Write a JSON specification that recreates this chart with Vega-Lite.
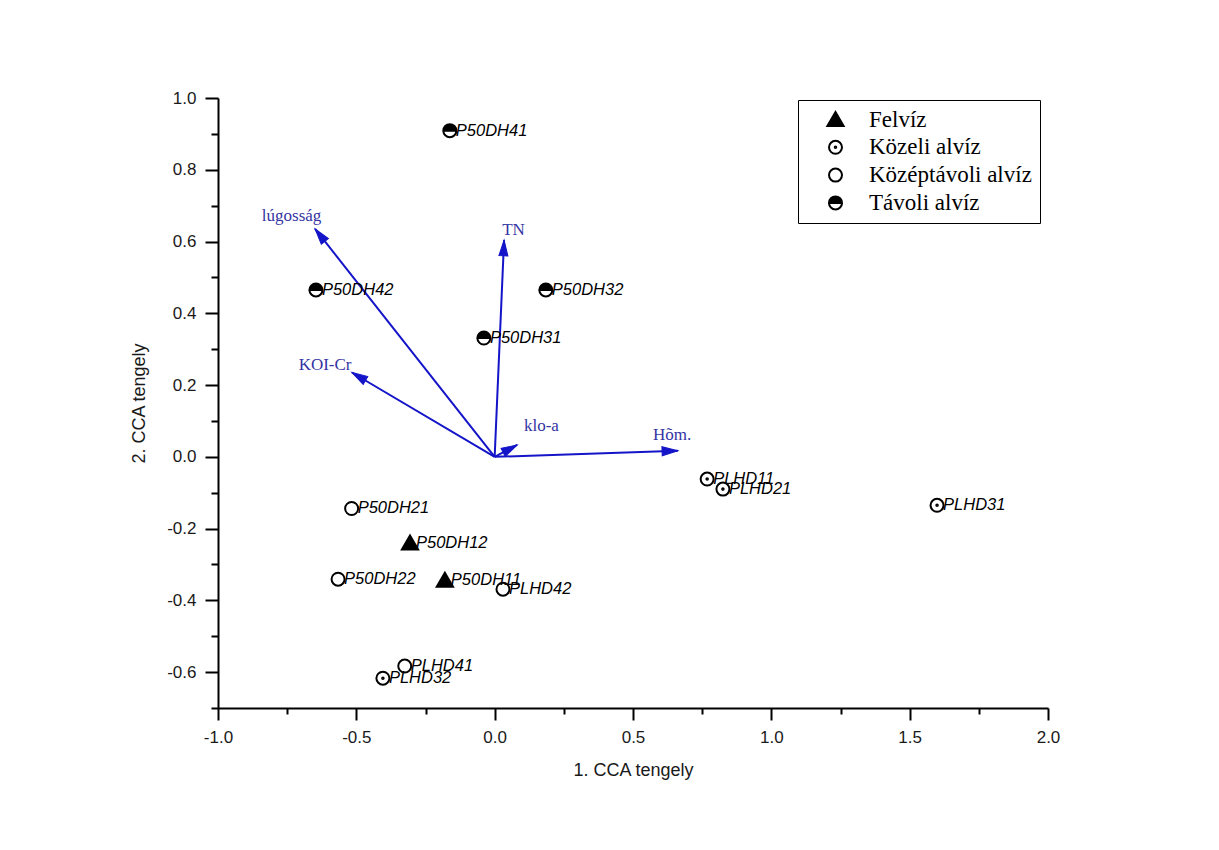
{
  "$schema": "https://vega.github.io/schema/vega-lite/v6.json",
  "width": 830,
  "height": 610,
  "autosize": {"type": "none"},
  "padding": {"left": 218, "top": 98, "right": 171, "bottom": 142},
  "background": "white",
  "config": {
    "view": {"stroke": null},
    "axis": {
      "grid": false,
      "domainColor": "black",
      "domainWidth": 2,
      "tickColor": "black",
      "tickWidth": 2,
      "labelFont": "Liberation Sans",
      "labelFontSize": 17,
      "labelColor": "#1a1a1a",
      "titleFont": "Liberation Sans",
      "titleFontSize": 18,
      "titleFontWeight": "normal",
      "titleColor": "#1a1a1a",
      "labelFlush": false,
      "labelOverlap": false
    },
    "legend": {
      "title": null, "orient": "none", "legendX": 580, "legendY": 2,
      "labelFont": "Liberation Serif", "labelFontSize": 23, "labelColor": "black", "labelLimit": 400,
      "symbolSize": 169, "symbolStrokeColor": "black", "symbolStrokeWidth": 2,
      "strokeColor": "black", "fillColor": "white", "padding": 8, "rowPadding": 3.8,
      "labelOffset": 22, "symbolOffset": 18, "cornerRadius": 0
    }
  },
  "datasets": {
    "sites": [
      {"site": "P50DH41", "group": "Távoli alvíz", "x": -0.162, "y": 0.909},
      {"site": "P50DH42", "group": "Távoli alvíz", "x": -0.646, "y": 0.465},
      {"site": "P50DH32", "group": "Távoli alvíz", "x": 0.185, "y": 0.465},
      {"site": "P50DH31", "group": "Távoli alvíz", "x": -0.039, "y": 0.331},
      {"site": "P50DH21", "group": "Középtávoli alvíz", "x": -0.517, "y": -0.144},
      {"site": "P50DH12", "group": "Felvíz", "x": -0.306, "y": -0.24},
      {"site": "P50DH22", "group": "Középtávoli alvíz", "x": -0.566, "y": -0.341},
      {"site": "P50DH11", "group": "Felvíz", "x": -0.18, "y": -0.344},
      {"site": "PLHD42", "group": "Középtávoli alvíz", "x": 0.03, "y": -0.369},
      {"site": "PLHD41", "group": "Középtávoli alvíz", "x": -0.325, "y": -0.583},
      {"site": "PLHD32", "group": "Közeli alvíz", "x": -0.404, "y": -0.617},
      {"site": "PLHD11", "group": "Közeli alvíz", "x": 0.768, "y": -0.062},
      {"site": "PLHD21", "group": "Közeli alvíz", "x": 0.825, "y": -0.09},
      {"site": "PLHD31", "group": "Közeli alvíz", "x": 1.599, "y": -0.135}
    ],
    "vectors": [
      {"var": "lúgosság", "vx": -0.649, "vy": 0.635, "lx": -0.734, "ly": 0.671},
      {"var": "TN", "vx": 0.034, "vy": 0.604, "lx": 0.068, "ly": 0.632},
      {"var": "KOI-Cr", "vx": -0.516, "vy": 0.235, "lx": -0.613, "ly": 0.256},
      {"var": "klo-a", "vx": 0.081, "vy": 0.033, "lx": 0.169, "ly": 0.086},
      {"var": "Hõm.", "vx": 0.662, "vy": 0.017, "lx": 0.641, "ly": 0.061}
    ]
  },
  "layer": [
    {
      "data": {"name": "vectors"},
      "mark": {"type": "rule", "stroke": "#1414c8", "strokeWidth": 2},
      "encoding": {
        "x": {"field": "vx", "type": "quantitative", "scale": {"domain": [-1, 2], "nice": false, "zero": false},
          "axis": {"title": "1. CCA tengely", "tickCount": 100, "values": [-1, -0.75, -0.5, -0.25, 0, 0.25, 0.5, 0.75, 1, 1.25, 1.5, 1.75, 2],
            "labelExpr": "abs(round(datum.value*4))%2==0 ? replace(format(datum.value,'.1f'),'\u2212','-') : ''",
            "tickSize": {"condition": {"test": "abs(round(datum.value*4))%2==0", "value": 12}, "value": 6},
            "labelPadding": 9, "titlePadding": 16}},
        "y": {"field": "vy", "type": "quantitative", "scale": {"domain": [-0.7, 1.0], "nice": false, "zero": false},
          "axis": {"title": "2. CCA tengely", "tickCount": 100, "values": [-0.7, -0.6, -0.5, -0.4, -0.3, -0.2, -0.1, 0, 0.1, 0.2, 0.3, 0.4, 0.5, 0.6, 0.7, 0.8, 0.9, 1.0],
            "labelExpr": "abs(round(datum.value*10))%2==0 ? replace(format(datum.value,'.1f'),'\u2212','-') : ''",
            "tickSize": {"condition": {"test": "abs(round(datum.value*10))%2==0", "value": 13}, "value": 7},
            "labelPadding": 9, "titlePadding": 18}},
        "x2": {"datum": 0},
        "y2": {"datum": 0}
      }
    },
    {
      "data": {"name": "vectors"},
      "transform": [{"calculate": "atan2(datum.vx*276.7, datum.vy*358.75)*180/PI", "as": "ang"}],
      "mark": {"type": "point", "shape": "M0,0L-0.6,2.1L0.6,2.1Z", "size": 225, "filled": true, "fill": "#1414c8", "stroke": "#1414c8", "strokeWidth": 1, "opacity": 1},
      "encoding": {
        "x": {"field": "vx", "type": "quantitative"},
        "y": {"field": "vy", "type": "quantitative"},
        "angle": {"field": "ang", "type": "quantitative", "scale": null}
      }
    },
    {
      "data": {"name": "vectors"},
      "mark": {"type": "text", "font": "Liberation Serif", "fontSize": 17, "color": "#3434a4", "align": "center", "baseline": "middle"},
      "encoding": {
        "x": {"field": "lx", "type": "quantitative"},
        "y": {"field": "ly", "type": "quantitative"},
        "text": {"field": "var"}
      }
    },
    {
      "data": {"name": "sites"},
      "mark": {"type": "point", "size": 169, "strokeWidth": 2, "opacity": 1, "fillOpacity": 1, "strokeOpacity": 1},
      "encoding": {
        "x": {"field": "x", "type": "quantitative"},
        "y": {"field": "y", "type": "quantitative"},
        "shape": {
          "field": "group", "type": "nominal",
          "scale": {
            "domain": ["Felvíz", "Közeli alvíz", "Középtávoli alvíz", "Távoli alvíz"],
            "range": [
              "M0,-1.15L1.25,1L-1.25,1Z",
              "M-1,0A1,1,0,1,1,1,0A1,1,0,1,1,-1,0Z M-0.12,0A0.12,0.12,0,1,1,0.12,0A0.12,0.12,0,1,1,-0.12,0Z",
              "circle",
              "M-1,0A1,1,0,0,1,1,0Z M-1,0A1,1,0,0,0,1,0A1,1,0,0,1,-1,0"
            ]
          }
        },
        "fill": {
          "field": "group", "type": "nominal",
          "scale": {
            "domain": ["Felvíz", "Közeli alvíz", "Középtávoli alvíz", "Távoli alvíz"],
            "range": ["black", "transparent", "transparent", "black"]
          }
        },
        "stroke": {
          "field": "group", "type": "nominal",
          "scale": {
            "domain": ["Felvíz", "Közeli alvíz", "Középtávoli alvíz", "Távoli alvíz"],
            "range": ["black", "black", "black", "black"]
          }
        }
      }
    },
    {
      "data": {"name": "sites"},
      "mark": {"type": "text", "font": "Liberation Sans", "fontSize": 16.5, "fontStyle": "italic", "color": "black", "align": "left", "baseline": "middle", "dx": 6},
      "encoding": {
        "x": {"field": "x", "type": "quantitative"},
        "y": {"field": "y", "type": "quantitative"},
        "text": {"field": "site"}
      }
    }
  ]
}
